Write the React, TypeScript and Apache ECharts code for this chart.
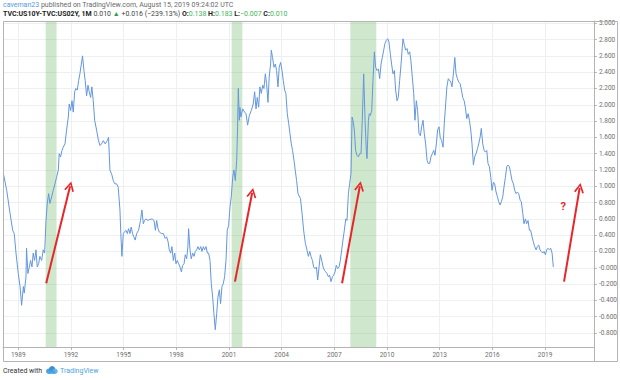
import React, { useEffect, useRef } from "react";
import * as echarts from "echarts";

// Monthly TVC:US10Y - TVC:US02Y spread (decimal year, value)
const dates: number[] = [
  1988.15,1988.34,1988.53,1988.68,1988.77,1988.87,1989.00,1989.10,1989.19,1989.29,
  1989.34,1989.44,1989.47,1989.55,1989.63,1989.70,1989.78,1989.85,1989.93,1990.01,
  1990.08,1990.16,1990.23,1990.33,1990.42,1990.50,1990.58,1990.65,1990.73,1990.80,
  1990.90,1990.99,1991.09,1991.18,1991.28,1991.33,1991.41,1991.49,1991.56,1991.66,
  1991.75,1991.85,1991.90,1991.98,1992.06,1992.13,1992.21,1992.28,1992.36,1992.44,
  1992.51,1992.59,1992.66,1992.74,1992.81,1992.89,1992.97,1993.04,1993.12,1993.19,
  1993.27,1993.35,1993.46,1993.55,1993.65,1993.74,1993.84,1993.95,1994.07,1994.14,
  1994.22,1994.33,1994.41,1994.50,1994.60,1994.69,1994.79,1994.84,1994.90,1994.98,
  1995.05,1995.13,1995.21,1995.28,1995.36,1995.43,1995.51,1995.58,1995.66,1995.74,
  1995.85,1995.96,1996.04,1996.12,1996.19,1996.27,1996.38,
  1996.46,1996.62,1996.73,1996.81,1996.88,1996.96,1997.03,1997.15,1997.26,1997.37,
  1997.45,1997.53,1997.60,1997.68,1997.75,1997.83,1997.91,1997.98,1998.06,1998.13,
  1998.21,1998.29,1998.36,1998.44,1998.51,1998.59,1998.66,1998.70,1998.78,1998.85,
  1998.93,1999.01,1999.08,1999.16,1999.23,1999.31,1999.39,1999.46,1999.54,1999.61,
  1999.69,1999.77,1999.84,1999.92,1999.99,2000.07,2000.14,2000.22,2000.30,2000.37,
  2000.45,2000.52,2000.60,2000.68,2000.75,2000.83,2000.90,2000.98,2001.06,2001.13,
  2001.21,2001.28,2001.36,2001.44,2001.49,2001.53,2001.59,2001.62,2001.68,2001.78,
  2001.89,2001.97,2002.06,2002.16,2002.27,2002.38,2002.46,2002.54,2002.61,2002.69,
  2002.76,2002.84,2002.92,2002.99,2003.07,2003.14,2003.22,2003.29,2003.37,2003.41,
  2003.48,2003.56,2003.64,2003.71,2003.79,2003.86,2003.94,2004.02,2004.09,2004.17,
  2004.24,2004.32,2004.40,2004.47,2004.55,2004.62,2004.70,2004.77,2004.85,2004.93,
  2005.07,2005.16,2005.25,2005.35,2005.44,2005.52,2005.60,2005.67,2005.75,2005.82,
  2005.90,2005.98,2006.05,2006.13,2006.20,2006.28,2006.36,2006.43,2006.51,2006.58,
  2006.66,2006.73,2006.81,2006.89,2006.96,2007.04,2007.11,2007.19,2007.27,2007.34,
  2007.42,2007.49,2007.57,2007.65,2007.72,2007.80,2007.87,2007.95,2008.01,2008.06,
  2008.14,2008.21,2008.29,2008.37,2008.44,2008.52,2008.59,2008.67,2008.75,2008.82,
  2008.86,2008.94,2008.99,2009.05,2009.13,2009.20,2009.28,2009.35,2009.43,2009.51,
  2009.58,2009.66,2009.73,2009.81,2009.88,2009.96,2010.04,2010.11,2010.19,2010.26,
  2010.34,2010.42,2010.49,2010.57,2010.64,2010.72,2010.80,2010.87,2010.91,2010.99,
  2011.06,2011.14,2011.21,2011.29,2011.36,2011.44,2011.52,2011.59,2011.67,2011.74,
  2011.82,2011.90,2011.97,2012.05,2012.12,2012.20,2012.28,2012.35,2012.43,2012.50,
  2012.58,2012.66,2012.73,2012.81,2012.88,2012.96,2013.03,2013.11,2013.19,2013.26,
  2013.34,2013.41,2013.49,
  2013.63,2013.70,2013.78,2013.86,2013.93,2014.01,2014.08,2014.16,2014.24,2014.31,
  2014.39,2014.46,2014.54,2014.62,2014.69,2014.77,2014.84,2014.92,2014.99,2015.07,
  2015.15,2015.22,2015.30,2015.37,2015.45,2015.53,2015.60,2015.68,2015.75,2015.83,
  2015.91,2015.98,2016.06,2016.13,2016.21,2016.29,2016.36,2016.44,2016.51,2016.59,
  2016.66,2016.74,2016.82,2016.89,2016.97,2017.04,2017.12,2017.20,2017.27,2017.35,
  2017.42,2017.50,2017.58,2017.65,2017.73,2017.80,2017.88,2017.95,2018.03,2018.11,
  2018.18,2018.26,2018.33,2018.41,2018.49,2018.56,2018.64,2018.71,2018.79,2018.87,
  2018.94,2019.02,2019.09,2019.17,2019.25,2019.32,2019.40,2019.47,
];

const spread: number[] = [
  1.16,0.95,0.67,0.46,0.42,0.18,-0.07,-0.23,-0.46,-0.23,
  -0.31,-0.11,0.24,-0.07,0.01,0.09,0.01,0.18,0.09,0.22,
  0.01,0.05,0.14,0.09,0.22,0.18,0.58,0.79,0.91,0.79,
  0.87,0.95,1.03,1.11,1.2,1.4,1.36,1.44,1.48,1.52,
  1.69,1.85,2.01,1.93,2.05,1.91,2.16,2.2,2.18,2.3,
  2.38,2.5,2.6,2.42,2.3,2.11,2.24,2.16,2.09,2.22,
  2.05,1.81,1.69,1.58,1.5,1.52,1.56,1.52,1.56,1.6,
  1.2,1.14,1.07,1.03,1.03,0.99,0.71,0.42,0.14,0.42,
  0.44,0.46,0.42,0.48,0.42,0.5,0.42,0.38,0.34,0.42,
  0.46,0.58,0.71,0.54,0.58,0.6,0.58,
  0.59,0.6,0.58,0.46,0.58,0.48,0.44,0.42,0.42,0.36,
  0.38,0.32,0.22,0.18,0.26,0.09,0.18,0.05,0.09,0.05,
  0.01,-0.05,0.03,0.05,0.16,0.11,0.26,0.48,0.22,0.11,
  0.18,0.14,0.2,0.22,0.26,0.22,0.26,0.2,0.26,0.22,
  0.26,0.18,0.18,0.09,-0.19,-0.36,-0.56,-0.76,-0.56,-0.36,
  -0.27,-0.44,-0.23,-0.19,-0.11,0.09,0.46,0.52,0.75,0.87,
  1.11,1.2,1.07,1.32,1.73,2.2,1.81,1.97,1.85,1.95,
  1.91,1.89,1.75,1.87,1.93,2.01,2.16,1.95,2.09,1.97,
  2.22,2.14,2.24,2.2,2.38,2.26,2.03,2.34,2.5,2.67,
  2.58,2.46,2.5,2.42,2.22,2.46,2.52,2.42,2.3,2.18,
  2.14,1.89,1.77,1.65,1.52,1.44,1.32,1.2,1.07,0.91,
  0.85,0.67,0.46,0.3,0.22,0.14,0.2,0.14,0.09,0.01,
  -0.01,0.01,-0.15,0.01,0.16,0.09,0.01,-0.03,-0.05,-0.07,
  -0.11,-0.09,-0.17,-0.11,-0.09,-0.05,0.03,-0.01,0.01,0.09,
  0.22,0.34,0.46,0.6,0.58,0.91,1.03,1.16,1.85,1.81,
  1.69,1.44,1.38,1.36,1.4,1.4,1.81,2.38,1.81,1.44,
  1.34,1.81,1.89,1.87,1.93,2.3,2.65,2.46,2.42,2.44,
  2.32,2.5,2.58,2.67,2.75,2.79,2.81,2.77,2.62,2.5,
  2.38,2.42,2.18,2.05,2.09,2.3,2.5,2.71,2.81,2.73,
  2.67,2.69,2.62,2.65,2.54,2.34,2.14,1.81,2.05,1.93,
  1.65,1.62,1.73,1.81,1.65,1.52,1.32,1.28,1.28,1.36,
  1.4,1.44,1.38,1.52,1.69,1.73,1.6,1.56,1.48,1.77,
  2.01,2.22,2.32,
  2.28,2.22,2.38,2.58,2.38,2.32,2.28,2.26,2.18,2.09,
  2.05,1.97,1.83,1.89,1.81,1.69,1.52,1.26,1.36,1.4,
  1.46,1.52,1.6,1.71,1.52,1.44,1.42,1.44,1.28,1.24,
  1.11,0.95,1.05,1.03,0.93,0.87,0.81,0.77,0.81,0.87,
  0.99,1.11,1.24,1.26,1.24,1.16,1.07,1.03,0.95,0.91,
  0.93,0.91,0.83,0.81,0.67,0.54,0.6,0.54,0.58,0.46,
  0.46,0.38,0.32,0.26,0.22,0.26,0.28,0.22,0.2,0.18,
  0.2,0.16,0.22,0.24,0.22,0.24,0.18,0.01,
];

const yearTicks: number[] = [1989, 1992, 1995, 1998, 2001, 2004, 2007, 2010, 2013, 2016, 2019];
const priceTicks: number[] = [-0.8, -0.6, -0.4, -0.2, 0, 0.2, 0.4, 0.6, 0.8, 1.0, 1.2, 1.4, 1.6, 1.8, 2.0, 2.2, 2.4, 2.6, 2.8, 3.0];
const recessions: number[][] = [[1990.56, 1991.18], [2001.15, 2001.76], [2007.91, 2009.39]];
const arrowStarts: number[][] = [[1990.59, -0.19], [2001.34, -0.17], [2007.44, -0.19], [2020.08, -0.17]];
const arrowEnds: number[][] = [[1991.95, 1.0], [2002.32, 0.92], [2008.45, 1.0], [2020.97, 0.98]];
const questionMark: number[] = [2020.04, 0.75];

const FONT = "Roboto, 'Liberation Sans', sans-serif";

export default function App() {
  const ref = useRef<HTMLDivElement>(null);
  useEffect(() => {
    const chart = echarts.init(ref.current!, null, { renderer: "svg" });
    const lineData = dates.map((d, i) => [d, spread[i]]);
    const option: any = {
      animation: false,
      backgroundColor: "#ffffff",
      textStyle: { fontFamily: FONT },
      grid: { left: 3, right: 26, top: 21, bottom: 33, containLabel: false },
      xAxis: {
        type: "value",
        min: 1988.13,
        max: 2021.78,
        axisLine: { show: true, onZero: false, lineStyle: { color: "#b4b4b4", width: 1 } },
        axisTick: { show: true, customValues: yearTicks, length: 3, lineStyle: { color: "#b4b4b4" } },
        axisLabel: {
          customValues: yearTicks,
          formatter: (v: number) => String(Math.round(v)),
          color: "#6e6e6e",
          fontSize: 6.5,
          margin: 4,
          fontFamily: FONT,
        },
        splitLine: { show: true, lineStyle: { color: "#edf0f3", width: 1 } },
      },
      yAxis: {
        type: "value",
        position: "right",
        min: -0.972,
        max: 3.028,
        axisLine: { show: true, onZero: false, lineStyle: { color: "#b4b4b4", width: 1 } },
        axisTick: { show: true, customValues: priceTicks, length: 3, lineStyle: { color: "#b4b4b4" } },
        axisLabel: {
          customValues: priceTicks,
          formatter: (v: number) => (Math.abs(v) < 1e-9 ? "-0.000" : v.toFixed(3)),
          color: "#6e6e6e",
          fontSize: 6.5,
          margin: 5,
          fontFamily: FONT,
          showMinLabel: true,
          showMaxLabel: true,
        },
        splitLine: { show: true, lineStyle: { color: "#edf0f3", width: 1 } },
      },
      series: [
        {
          type: "line",
          data: lineData,
          showSymbol: false,
          symbol: "none",
          lineStyle: { color: "#6396de", width: 1 },
          z: 3,
          markArea: {
            silent: true,
            itemStyle: { color: "rgba(96, 180, 90, 0.3)" },
            data: recessions.map((r) => [{ xAxis: r[0] }, { xAxis: r[1] }]),
          },
          markLine: {
            silent: true,
            symbol: ["none", "path://M0,10 L5,0 L10,10 L8.4,10.8 L5,3.4 L1.6,10.8 Z"],
            symbolSize: [10, 10],
            label: { show: false },
            lineStyle: { color: "#e8262a", width: 2, type: "solid" },
            data: arrowStarts.map((s, i) => [
              { coord: s, symbol: "none" },
              { coord: arrowEnds[i] },
            ]),
          },
          markPoint: {
            silent: true,
            symbol: "circle",
            symbolSize: 1,
            itemStyle: { color: "rgba(0,0,0,0)" },
            label: {
              show: true,
              formatter: "?",
              color: "#e0282e",
              fontWeight: "bold",
              fontSize: 11,
              fontFamily: FONT,
            },
            data: [{ coord: questionMark }],
          },
        },
      ],
      graphic: [
        {
          type: "rect",
          shape: { x: 3.5, y: 21.5, width: 614, height: 340 },
          style: { fill: "none", stroke: "#b4b4b4", lineWidth: 1 },
          silent: true,
          z: 10,
        },
        {
          type: "line",
          shape: { x1: 594.5, y1: 347, x2: 594.5, y2: 362 },
          style: { stroke: "#b4b4b4", lineWidth: 1 },
          silent: true,
          z: 10,
        },
        {
          type: "text",
          left: 3,
          top: 1,
          style: {
            text: "{u|caveman23} {g|published on TradingView.com, August 15, 2019 09:24:02 UTC}",
            font: `7px ${FONT}`,
            rich: {
              u: { fill: "#4f9be0", fontSize: 7, fontFamily: FONT },
              g: { fill: "#6a6a6a", fontSize: 7, fontFamily: FONT },
            },
          },
        },
        {
          type: "text",
          left: 3,
          top: 10,
          style: {
            text:
              "{b|TVC:US10Y-TVC:US02Y, 1M} {d|0.010} {t|▲} {d|+0.016 (−239.13%)} {b|O:}{v|0.138} {b|H:}{v|0.183} {b|L:}{v|−0.007} {b|C:}{v|0.010}",
            font: `7px ${FONT}`,
            rich: {
              b: { fill: "#222222", fontWeight: "bold", fontSize: 7, fontFamily: FONT },
              d: { fill: "#444444", fontSize: 7, fontFamily: FONT },
              t: { fill: "#2f9e4f", fontSize: 7, fontFamily: FONT },
              v: { fill: "#45b35a", fontSize: 7, fontFamily: FONT },
            },
          },
        },
        {
          type: "text",
          left: 3,
          top: 367,
          style: { text: "Created with", fill: "#333333", font: `7px ${FONT}` },
        },
        {
          type: "group",
          left: 46,
          top: 366,
          children: [
            { type: "circle", shape: { cx: 3, cy: 6, r: 2.6 }, style: { fill: "#4aa3df" } },
            { type: "circle", shape: { cx: 6.5, cy: 4, r: 3.2 }, style: { fill: "#3d8fd1" } },
            { type: "circle", shape: { cx: 9.5, cy: 6, r: 2.6 }, style: { fill: "#5fb6e8" } },
            { type: "rect", shape: { x: 3, y: 5.5, width: 6.5, height: 3.1 }, style: { fill: "#4aa3df" } },
          ],
        },
        {
          type: "text",
          left: 60,
          top: 367,
          style: { text: "TradingView", fill: "#4aa3df", font: `7px ${FONT}` },
        },
      ],
    };
    chart.setOption(option);
    return () => chart.dispose();
  }, []);
  return (
    <div
      ref={ref}
      style={{ position: "absolute", left: 0, top: 0, width: 620, height: 380, background: "#fff" }}
    />
  );
}
